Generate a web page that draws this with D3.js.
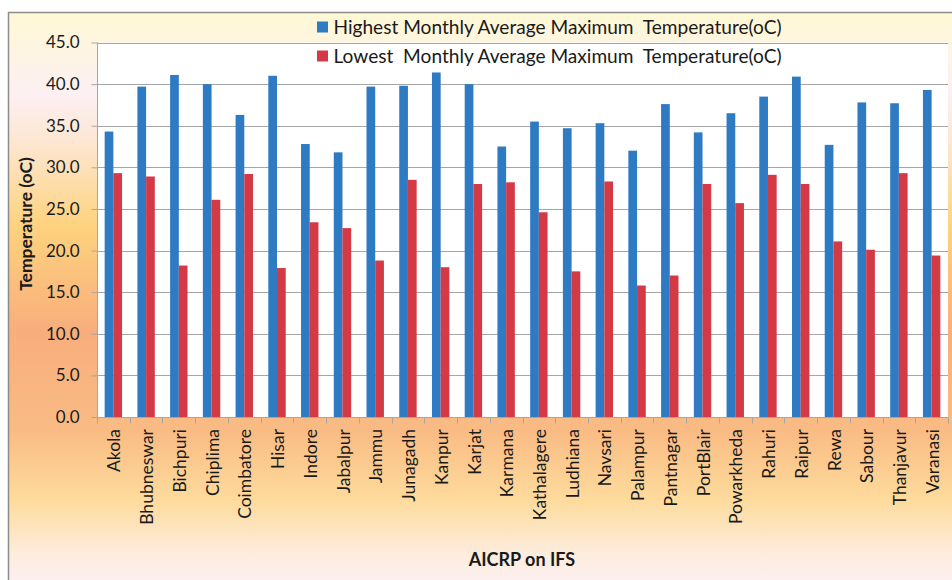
<!DOCTYPE html>
<html>
<head>
<meta charset="utf-8">
<script src="https://cdn.jsdelivr.net/npm/d3@7"></script>
<style>
  body { margin: 0; background: #fff; }
  svg { display: block; }
  text { font-family: Lato, "Open Sans", sans-serif; fill: #1a1a1a; }
</style>
</head>
<body>
<svg id="chart" width="952" height="580"></svg>
<script>
// stations (AICRP on IFS centres)
const stations = ["Akola", "Bhubneswar", "Bichpuri", "Chiplima", "Coimbatore", "Hisar", "Indore",
  "Jabalpur", "Jammu", "Junagadh", "Kanpur", "Karjat", "Karmana", "Kathalagere", "Ludhiana",
  "Navsari", "Palampur", "Pantnagar", "PortBlair", "Powarkheda", "Rahuri", "Raipur", "Rewa",
  "Sabour", "Thanjavur", "Varanasi"];

// highest monthly average maximum temperature (oC)
const highest = [34.3, 39.7, 41.1, 40.0, 36.3, 41.0, 32.8, 31.8, 39.7, 39.8, 41.4, 40.0, 32.5,
  35.5, 34.7, 35.3, 32.0, 37.6, 34.2, 36.5, 38.5, 40.9, 32.7, 37.8, 37.7, 39.3];

// lowest monthly average maximum temperature (oC)
const lowest = [29.3, 28.9, 18.2, 26.1, 29.2, 17.9, 23.4, 22.7, 18.8, 28.5, 18.0, 28.0, 28.2,
  24.6, 17.5, 28.3, 15.8, 17.0, 28.0, 25.7, 29.1, 28.0, 21.1, 20.1, 29.3, 19.4];

const seriesNames = ["Highest Monthly Average Maximum  Temperature(oC)",
  "Lowest  Monthly Average Maximum  Temperature(oC)"];
const seriesColors = ["#2e7bc3", "#d43a46"];
const yTicks = [0, 5, 10, 15, 20, 25, 30, 35, 40, 45];

const svg = d3.select("#chart");
const plot = { left: 97, right: 948, top: 42.5, bottom: 417 };

// background gradient of the chart frame
const defs = svg.append("defs");
const grad = defs.append("linearGradient")
  .attr("id", "bg").attr("x1", 0).attr("y1", 0).attr("x2", 0).attr("y2", 1);
[[0, "#fff8d4"], [0.14, "#fcf0f3"], [0.23, "#fde6cf"], [0.37, "#fdd27e"], [0.55, "#f8ae7c"],
 [0.72, "#f9bb84"], [0.84, "#fedb9c"], [0.93, "#fdecdc"], [1, "#fcf0f7"]]
  .forEach(([o, c]) => grad.append("stop").attr("offset", o).attr("stop-color", c));

svg.append("rect")
  .attr("x", 8.5).attr("y", 12.5).attr("width", 960).attr("height", 580)
  .attr("fill", "url(#bg)").attr("stroke", "#8c8c8c").attr("stroke-width", 1.5);

// plot area
svg.append("rect")
  .attr("x", plot.left).attr("y", plot.top)
  .attr("width", plot.right - plot.left).attr("height", plot.bottom - plot.top)
  .attr("fill", "#fff");

const x = d3.scaleBand().domain(stations).range([plot.left, plot.right]).padding(0);
const xs = d3.scaleBand().domain([0, 1]).range([0, x.bandwidth()]).paddingInner(0).paddingOuter(0.88);
const y = d3.scaleLinear().domain([0, 45]).range([plot.bottom, plot.top]);

// gridlines
svg.append("g")
  .selectAll("line")
  .data(yTicks.slice(1))
  .join("line")
  .attr("x1", plot.left).attr("x2", plot.right)
  .attr("y1", d => Math.round(y(d)) + 0.5).attr("y2", d => Math.round(y(d)) + 0.5)
  .attr("stroke", "#a6a6a6").attr("stroke-width", 1);

// bars
const groups = svg.append("g")
  .selectAll("g")
  .data(stations)
  .join("g")
  .attr("transform", d => `translate(${x(d)},0)`);

groups.selectAll("rect")
  .data((d, i) => [highest[i], lowest[i]])
  .join("rect")
  .attr("x", (d, j) => xs(j))
  .attr("width", xs.bandwidth())
  .attr("y", d => y(d))
  .attr("height", d => y(0) - y(d))
  .attr("fill", (d, j) => seriesColors[j]);

// y axis
const yAxis = svg.append("g")
  .attr("transform", `translate(${plot.left + 0.5},0)`)
  .call(d3.axisLeft(y).tickValues(yTicks).tickFormat(d3.format(".1f")).tickSize(6).tickPadding(12));
yAxis.select(".domain").attr("stroke", "#a6a6a6").attr("d", `M0,${plot.top}V${plot.bottom}`);
yAxis.selectAll(".tick line").attr("stroke", "#a6a6a6");
yAxis.selectAll(".tick text").attr("font-size", 17).attr("fill", "#1a1a1a")
  .attr("font-family", "Lato, sans-serif");

// x axis
const xAxis = svg.append("g")
  .attr("transform", `translate(0,${Math.round(plot.bottom) + 0.5})`)
  .call(d3.axisBottom(x).tickSize(0).tickFormat(""));
xAxis.select(".domain").attr("stroke", "#a6a6a6").attr("d", `M${plot.left},0H${plot.right}`);
xAxis.selectAll(".tick").remove();

// x ticks at category boundaries
xAxis.append("g")
  .selectAll("line")
  .data(stations.map(s => x(s)).concat([plot.right]))
  .join("line")
  .attr("x1", d => Math.round(d) + 0.5).attr("x2", d => Math.round(d) + 0.5)
  .attr("y1", 0).attr("y2", 6)
  .attr("stroke", "#a6a6a6");

// category labels, rotated
svg.append("g")
  .selectAll("text")
  .data(stations)
  .join("text")
  .attr("transform", d => `translate(${x(d) + x.bandwidth() / 2 + 1},429) rotate(-90)`)
  .attr("text-anchor", "end")
  .attr("dy", "0.35em")
  .attr("font-size", 17.5)
  .text(d => d);

// axis titles
svg.append("text")
  .attr("transform", "translate(26,224) rotate(-90)")
  .attr("text-anchor", "middle")
  .attr("dy", "0.35em")
  .attr("font-size", 17.5)
  .attr("font-weight", "bold")
  .text("Temperature (oC)");

svg.append("text")
  .attr("x", 522).attr("y", 560)
  .attr("text-anchor", "middle")
  .attr("dy", "0.35em")
  .attr("font-size", 18)
  .attr("font-weight", "bold")
  .text("AICRP on IFS");

// legend
const legend = svg.append("g")
  .selectAll("g")
  .data(seriesNames)
  .join("g")
  .attr("transform", (d, i) => `translate(317,${27 + i * 29})`);

legend.append("rect")
  .attr("x", 0).attr("y", -5.5).attr("width", 11).attr("height", 11)
  .attr("fill", (d, i) => seriesColors[i]);

legend.append("text")
  .attr("x", 16.5).attr("dy", "0.35em")
  .attr("font-size", 19.1)
  .style("white-space", "pre")
  .text(d => d);
</script>
</body>
</html>
